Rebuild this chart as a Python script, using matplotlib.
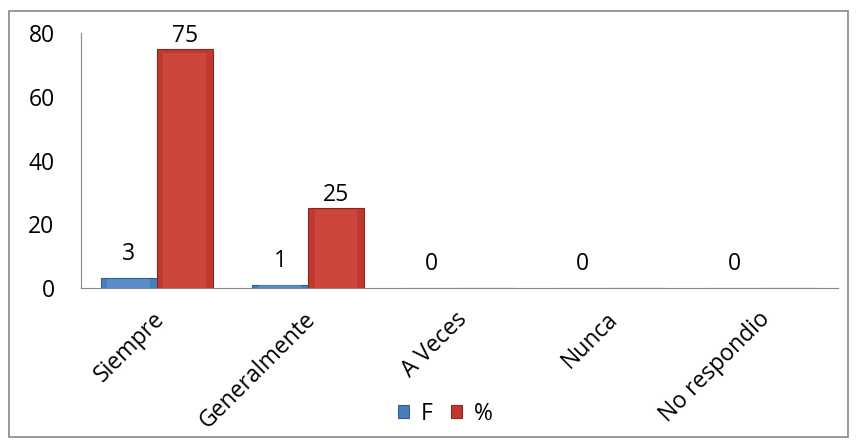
import numpy as np
import matplotlib.pyplot as plt
from matplotlib.patches import Rectangle
from matplotlib.transforms import ScaledTranslation

categories = ['Siempre', 'Generalmente', 'A Veces', 'Nunca', 'No respondio']
f_values = [3, 1, 0, 0, 0]
pct_values = [75, 25, 0, 0, 0]
series_names = ['F', '%']
y_ticks = [0, 20, 40, 60, 80]

plt.rcParams['font.family'] = ['Open Sans', 'DejaVu Sans']
fs = 16.5

fig = plt.figure(figsize=(8.58, 4.48), dpi=100)
ax = fig.add_axes([81 / 858, 1 - 288 / 448, (838 - 81) / 858, (288 - 33) / 448])

# outer border of the chart area
fig.patches.append(Rectangle((9 / 858, 11 / 448), 839 / 858, 426 / 448, transform=fig.transFigure,
                             fill=False, edgecolor='#878787', linewidth=1.2))

x = np.arange(len(categories))
w = 0.37
bars_f = ax.bar(x - w / 2, f_values, w, color='#4A7EBB', edgecolor='#2E5C96', linewidth=0.8, label=series_names[0])
bars_p = ax.bar(x + w / 2, pct_values, w, color='#C0392F', edgecolor='#8E2420', linewidth=0.8, label=series_names[1])

# simple shading on bars to mimic the bevelled look
for b, col in list(zip(bars_f, ['#6A9AD6'] * 5)) + list(zip(bars_p, ['#D9504A'] * 5)):
    if b.get_height() > 0:
        bx, bw, bh = b.get_x(), b.get_width(), b.get_height()
        ax.add_patch(Rectangle((bx + bw * 0.12, 0), bw * 0.76, bh * 0.985, color=col, alpha=0.55, linewidth=0))

# data labels: F labels always, % labels only where non-zero
for xi, v in zip(x - w / 2, f_values):
    ax.annotate(str(v), (xi, v), xytext=(0, 13), textcoords='offset points', ha='center', va='baseline', fontsize=fs)
for xi, v in zip(x + w / 2, pct_values):
    if v > 0:
        ax.annotate(str(v), (xi, v), xytext=(0, 5), textcoords='offset points', ha='center', va='baseline', fontsize=fs)

ax.set_xlim(-0.5, len(categories) - 0.5)
ax.set_ylim(0, 80)
ax.set_yticks(y_ticks)
ax.set_xticks(x)
ax.set_xticklabels(categories, rotation=45, ha='right', rotation_mode='anchor', fontsize=fs)
ax.tick_params(axis='both', length=0, labelsize=fs)
ax.tick_params(axis='y', pad=19)
ax.tick_params(axis='x', pad=14)
# nudge the rotated labels a little to the left
for lbl in ax.get_xticklabels():
    lbl.set_transform(lbl.get_transform() + ScaledTranslation(-4.5 / 100, 0, fig.dpi_scale_trans))
for s in ['top', 'right']:
    ax.spines[s].set_visible(False)
for s in ['left', 'bottom']:
    ax.spines[s].set_color('#878787')

ax.legend(loc='center', bbox_to_anchor=(445 / 858, 1 - 414 / 448), bbox_transform=fig.transFigure,
          ncol=2, frameon=False, fontsize=fs, handlelength=0.5, handleheight=0.5, columnspacing=0.8,
          handletextpad=0.5)

fig.savefig('out.png', dpi=100)
